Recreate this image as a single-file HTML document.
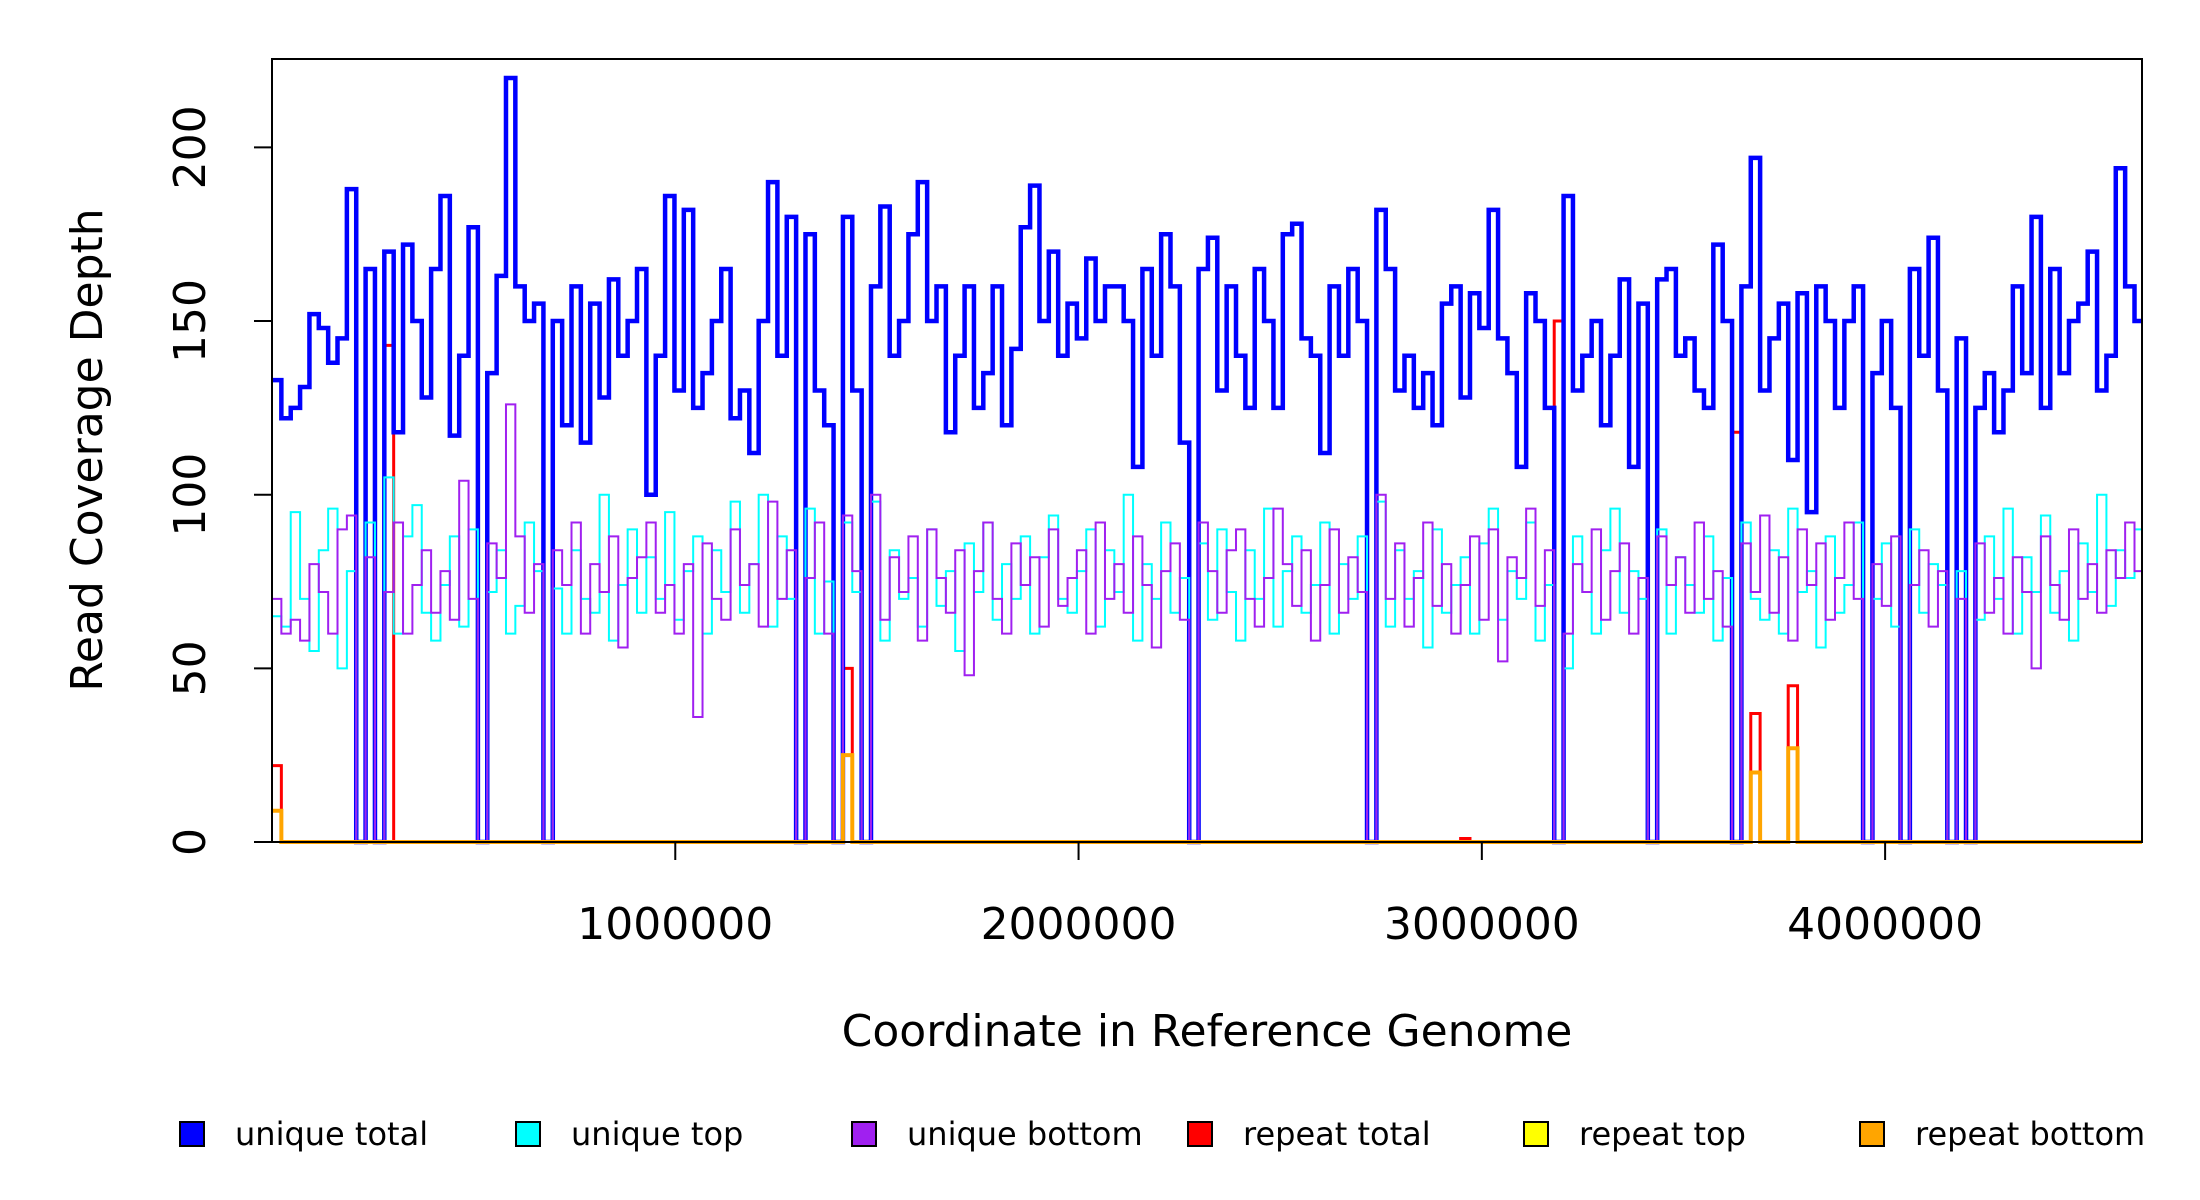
<!DOCTYPE html>
<html><head><meta charset="utf-8"><style>
html,body{margin:0;padding:0;background:#fff;}
svg{display:block;font-family:"DejaVu Sans","Liberation Sans",sans-serif;}
</style></head><body>
<svg id="chart" width="2200" height="1200" viewBox="0 0 2200 1200" xmlns="http://www.w3.org/2000/svg">
<g id="series"></g>
<rect x="272" y="59" width="1870" height="783" fill="none" stroke="#000" stroke-width="2"/>
<g id="axes"></g>
<text x="1207" y="1046" font-size="44" text-anchor="middle">Coordinate in Reference Genome</text>
<text transform="translate(102,450) rotate(-90)" font-size="44" text-anchor="middle">Read Coverage Depth</text>
<g id="legend"></g>
</svg>
<script>
const binSize = 23208;
const uniqueTotal = [133,122,125,131,152,148,138,145,188,0,165,0,170,118,172,150,128,165,186,117,
140,177,0,135,163,220,160,150,155,0,150,120,160,115,155,128,162,140,150,165,
100,140,186,130,182,125,135,150,165,122,130,112,150,190,140,180,0,175,130,120,
0,180,130,0,160,183,140,150,175,190,150,160,118,140,160,125,135,160,120,142,
177,189,150,170,140,155,145,168,150,160,160,150,108,165,140,175,160,115,0,165,
174,130,160,140,125,165,150,125,175,178,145,140,112,160,140,165,150,0,182,165,
130,140,125,135,120,155,160,128,158,148,182,145,135,108,158,150,125,0,186,130,
140,150,120,140,162,108,155,0,162,165,140,145,130,125,172,150,0,160,197,130,
145,155,110,158,95,160,150,125,150,160,0,135,150,125,0,165,140,174,130,0,
145,0,125,135,118,130,160,135,180,125,165,135,150,155,170,130,140,194,160,150];
const uniqueTop = [65,62,95,70,55,84,96,50,78,0,92,0,105,60,88,97,66,58,74,88,
62,90,0,72,84,60,68,92,78,0,73,60,84,70,66,100,58,74,90,66,
82,70,95,64,78,88,60,84,72,98,66,80,100,62,88,70,0,96,60,75,
0,92,72,0,98,58,84,70,76,62,90,68,78,55,86,72,92,64,80,70,
88,60,82,94,70,66,78,90,62,84,72,100,58,80,70,92,66,76,0,86,
64,90,72,58,84,70,96,62,78,88,66,74,92,60,80,70,88,0,98,62,
84,70,78,56,90,66,74,82,60,86,96,64,78,70,92,58,74,0,50,88,
72,60,84,96,66,78,70,0,90,60,82,74,66,88,58,76,0,92,70,64,
84,60,96,72,78,56,88,66,74,92,0,70,86,62,0,90,66,80,74,0,
78,0,64,88,70,96,60,82,72,94,66,78,58,86,72,100,68,84,76,90];
const uniqueBottom = [70,60,64,58,80,72,60,90,94,0,82,0,72,92,60,74,84,66,78,64,
104,70,0,86,76,126,88,66,80,0,84,74,92,60,80,72,88,56,76,82,
92,66,74,60,80,36,86,70,64,90,74,80,62,98,70,84,0,76,92,60,
0,94,78,0,100,64,82,72,88,58,90,76,66,84,48,78,92,70,60,86,
74,82,62,90,68,76,84,60,92,70,80,66,88,74,56,78,86,64,0,92,
78,66,84,90,70,62,76,96,80,68,84,58,74,90,66,82,72,0,100,70,
86,62,76,92,68,80,60,74,88,64,90,52,82,76,96,68,84,0,60,80,
72,90,64,78,86,60,76,0,88,74,82,66,92,70,78,62,0,86,72,94,
66,82,58,90,74,86,64,76,92,70,0,80,68,88,0,74,84,62,78,0,
70,0,86,66,76,60,82,72,50,88,74,64,90,70,80,66,84,76,92,78];
const repeatTotalBins = [0,12,61,127,137,156,158,162];
const repeatTotalVals = [22,143,50,1,150,118,37,45];
const repeatTopBins = [];
const repeatTopVals = [];
const repeatBottomBins = [0,61,158,162];
const repeatBottomVals = [9,25,20,27];
const xTicks = [1000000,2000000,3000000,4000000];
const xTickLabels = ["1000000","2000000","3000000","4000000"];
const yTicks = [0,50,100,150,200];
const yTickLabels = ["0","50","100","150","200"];
const legendLabels = ["unique total","unique top","unique bottom","repeat total","repeat top","repeat bottom"];
const legendColors = ["#0000FF","#00FFFF","#A020F0","#FF0000","#FFFF00","#FFA500"];

const NS="http://www.w3.org/2000/svg";
const X0=272, X1=2142, Y0=842, Y200=147.4, GENOME=4637000;
function sx(v){return X0+(v/GENOME)*(X1-X0);}
function sy(v){return Y0-(v/200)*(Y0-Y200);}
const series=document.getElementById('series');
const axes=document.getElementById('axes');
const legend=document.getElementById('legend');

function stepPath(vals){
  let d="M"+sx(0).toFixed(2)+" "+sy(vals[0]).toFixed(2);
  for(let i=0;i<vals.length;i++){
    const xe=Math.min(GENOME,(i+1)*binSize);
    d+=" V"+sy(vals[i]).toFixed(2)+" H"+sx(xe).toFixed(2);
  }
  return d;
}
function sparse(bins,vals){
  const a=new Array(uniqueTotal.length).fill(0);
  bins.forEach((b,i)=>{a[b]=vals[i];});
  return a;
}
function addLine(vals,color,w,name){
  const p=document.createElementNS(NS,'path');
  p.setAttribute('d',stepPath(vals));
  p.setAttribute('fill','none');
  p.setAttribute('stroke',color);
  p.setAttribute('stroke-width',w);
  p.setAttribute('stroke-linejoin','miter');
  
  
  series.appendChild(p);
}
addLine(sparse(repeatTotalBins,repeatTotalVals),"#FF0000",3,"repeat-total-line");
addLine(uniqueTotal,"#0000FF",4.5,"unique-total-line");
addLine(uniqueTop,"#00FFFF",2,"unique-top-line");
addLine(uniqueBottom,"#A020F0",2,"unique-bottom-line");
addLine(sparse(repeatTopBins,repeatTopVals),"#FFFF00",2,"repeat-top-line");
addLine(sparse(repeatBottomBins,repeatBottomVals),"#FFA500",4,"repeat-bottom-line");

xTicks.forEach((t,i)=>{
  const l=document.createElementNS(NS,'line');
  l.setAttribute('x1',sx(t));l.setAttribute('x2',sx(t));
  l.setAttribute('y1',Y0);l.setAttribute('y2',Y0+18);
  l.setAttribute('stroke','#000');l.setAttribute('stroke-width','2');
  
  
  axes.appendChild(l);
  const tx=document.createElementNS(NS,'text');
  tx.setAttribute('x',sx(t));tx.setAttribute('y',939);
  tx.setAttribute('font-size','44');tx.setAttribute('text-anchor','middle');
  tx.textContent=xTickLabels[i];
  
  
  axes.appendChild(tx);
});
yTicks.forEach((t,i)=>{
  const l=document.createElementNS(NS,'line');
  l.setAttribute('x1',X0-18);l.setAttribute('x2',X0);
  l.setAttribute('y1',sy(t));l.setAttribute('y2',sy(t));
  l.setAttribute('stroke','#000');l.setAttribute('stroke-width','2');
  
  
  axes.appendChild(l);
  const tx=document.createElementNS(NS,'text');
  tx.setAttribute('transform','translate(205,'+sy(t)+') rotate(-90)');
  tx.setAttribute('font-size','44');tx.setAttribute('text-anchor','middle');
  tx.textContent=yTickLabels[i];
  
  
  axes.appendChild(tx);
});
legendLabels.forEach((lab,i)=>{
  const cx=192+i*336;
  const r=document.createElementNS(NS,'rect');
  r.setAttribute('x',cx-12);r.setAttribute('y',1122);
  r.setAttribute('width',24);r.setAttribute('height',24);
  r.setAttribute('fill',legendColors[i]);r.setAttribute('stroke','#000');r.setAttribute('stroke-width','2');
  
  
  legend.appendChild(r);
  const tx=document.createElementNS(NS,'text');
  tx.setAttribute('x',cx+43);tx.setAttribute('y',1145);
  tx.setAttribute('font-size','32');
  tx.textContent=lab;
  
  
  legend.appendChild(tx);
});
</script>
</body></html>
